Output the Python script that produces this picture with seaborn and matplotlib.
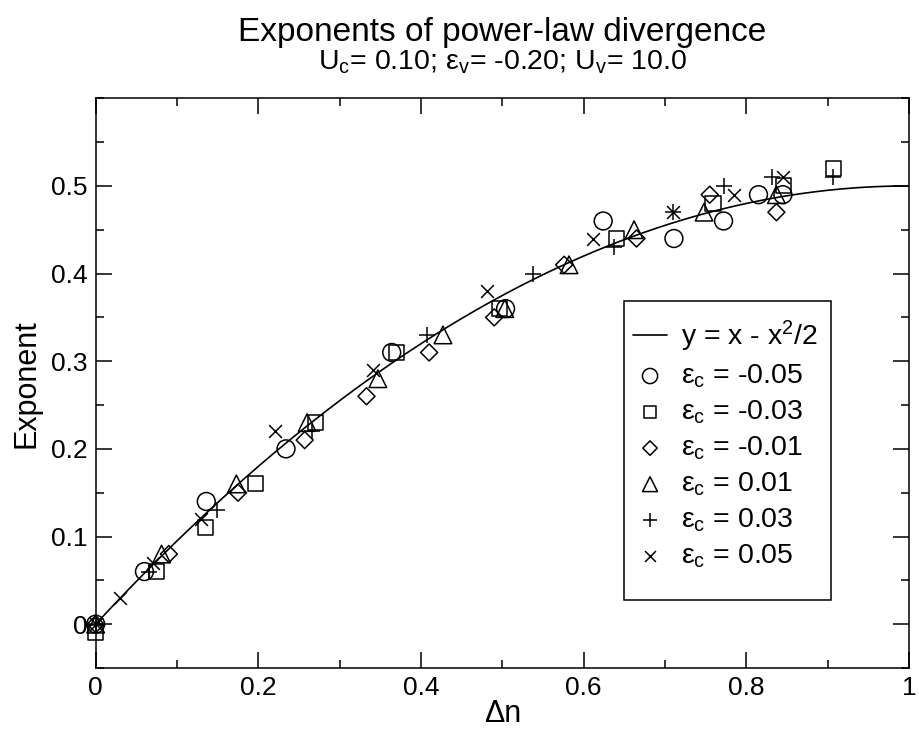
import numpy as np
import matplotlib
matplotlib.use("Agg")
import matplotlib.pyplot as plt
from matplotlib.patches import Rectangle
from matplotlib.ticker import MultipleLocator, FormatStrFormatter
import seaborn as sns

# Valeurs (Delta n, exposant) pour chaque epsilon_c
circle_x = [0.0, 0.060, 0.136, 0.234, 0.364, 0.504, 0.624, 0.711, 0.772, 0.815, 0.845]
circle_y = [0.0, 0.06, 0.14, 0.20, 0.31, 0.36, 0.46, 0.44, 0.46, 0.49, 0.49]
square_x = [0.0, 0.075, 0.135, 0.196, 0.270, 0.370, 0.497, 0.640, 0.759, 0.846, 0.907]
square_y = [-0.01, 0.06, 0.11, 0.16, 0.23, 0.31, 0.36, 0.44, 0.48, 0.50, 0.52]
diamond_x = [0.0, 0.090, 0.175, 0.257, 0.333, 0.410, 0.490, 0.576, 0.665, 0.755, 0.837]
diamond_y = [0.0, 0.08, 0.15, 0.21, 0.26, 0.31, 0.35, 0.41, 0.44, 0.49, 0.47]
triangle_x = [0.0, 0.081, 0.173, 0.260, 0.347, 0.427, 0.503, 0.582, 0.662, 0.748, 0.837]
triangle_y = [0.0, 0.08, 0.16, 0.23, 0.28, 0.33, 0.36, 0.41, 0.45, 0.47, 0.49]
plus_x = [0.0, 0.065, 0.149, 0.266, 0.407, 0.538, 0.637, 0.710, 0.772, 0.832, 0.906]
plus_y = [0.0, 0.06, 0.13, 0.22, 0.33, 0.40, 0.43, 0.47, 0.50, 0.51, 0.51]
cross_x = [0.0, 0.030, 0.070, 0.130, 0.220, 0.341, 0.481, 0.612, 0.710, 0.785, 0.845]
cross_y = [0.0, 0.03, 0.07, 0.12, 0.22, 0.29, 0.38, 0.44, 0.47, 0.49, 0.51]

eps_labels = ["-0.05", "-0.03", "-0.01", "0.01", "0.03", "0.05"]

# Style
sns.set_style("ticks", rc={"axes.edgecolor": "black", "xtick.color": "black",
                           "ytick.color": "black", "text.color": "black",
                           "axes.labelcolor": "black"})
plt.rcParams['font.family'] = ['Liberation Sans', 'DejaVu Sans']
plt.rcParams['mathtext.fontset'] = 'custom'
plt.rcParams['mathtext.rm'] = 'Liberation Sans'
plt.rcParams['mathtext.it'] = 'Liberation Sans'
plt.rcParams['mathtext.bf'] = 'Liberation Sans:bold'

fig, ax = plt.subplots(figsize=(9.19, 7.29), dpi=100)
fig.subplots_adjust(left=0.1041, right=0.9891, top=0.8652, bottom=0.0837)

# Courbe théorique y = x - x^2/2
xs = np.linspace(0, 1, 200)
sns.lineplot(x=xs, y=xs - xs**2 / 2, color="black", linewidth=1.2,
             label=r"y = x - x$^\mathregular{2}$/2", ax=ax, legend=False)

series = [
    (circle_x, circle_y, "o", 165),
    (square_x, square_y, "s", 118),
    (diamond_x, diamond_y, "D", 75),
    (triangle_x, triangle_y, "^", 160),
    (plus_x, plus_y, "+", 130),
    (cross_x, cross_y, "x", 85),
]
for (sx, sy, m, size), lab in zip(series, eps_labels):
    label = r"$\mathregular{ε_c}$ = " + lab
    if m in ("+", "x"):
        sns.scatterplot(x=sx, y=sy, marker=m, s=size, color="black",
                        linewidth=1.1, label=label, ax=ax, legend=False,
                        zorder=3, clip_on=False)
    else:
        sns.scatterplot(x=sx, y=sy, marker=m, s=size, facecolor="none",
                        edgecolor="black", linewidth=1.1, label=label, ax=ax,
                        legend=False, zorder=3, clip_on=False)

ax.set_xlim(0, 1)
ax.set_ylim(-0.05, 0.6)
ax.set_xticks([0, 0.2, 0.4, 0.6, 0.8, 1.0])
ax.set_yticks([0, 0.1, 0.2, 0.3, 0.4, 0.5])
ax.xaxis.set_minor_locator(MultipleLocator(0.1))
ax.yaxis.set_minor_locator(MultipleLocator(0.05))
ax.xaxis.set_major_formatter(FormatStrFormatter('%g'))
ax.yaxis.set_major_formatter(FormatStrFormatter('%g'))
ax.tick_params(which="both", direction="in", top=True, right=True, width=1.1,
               labelsize=19, pad=6)
ax.tick_params(which="major", length=11.5)
ax.tick_params(which="minor", length=5.8)
for sp in ax.spines.values():
    sp.set_linewidth(1.1)

ax.set_xlabel("Δn", fontsize=22)
ax.set_ylabel("Exponent", fontsize=22)
ax.xaxis.set_label_coords(0.5, -0.055)
ax.yaxis.set_label_coords(-0.067, 0.5)

xc = (0.1041 + 0.9891) / 2
fig.text(xc, 1 - 41 / 729, "Exponents of power-law divergence", ha="center",
         va="baseline", fontsize=24)
fig.text(xc, 1 - 70 / 729,
         r"U$_\mathregular{c}$= 0.10; $\mathregular{ε_v}$= -0.20; U$_\mathregular{v}$= 10.0",
         ha="center", va="baseline", fontsize=20.5)

# cadre de la légende (dessiné à part pour garder les marges du modèle)
ax.add_patch(Rectangle((0.650, 0.119), 0.254, 0.525, transform=ax.transAxes,
                       facecolor="white", edgecolor="black", linewidth=1.1,
                       zorder=4))
leg = ax.legend(loc="upper left", bbox_to_anchor=(0.6606, 0.613), borderaxespad=0,
                fontsize=20.5, frameon=False, labelspacing=0.3, borderpad=0,
                handlelength=1.2, handletextpad=0.5, markerscale=0.85)
leg.set_zorder(5)

plt.savefig("out.png", dpi=100)
